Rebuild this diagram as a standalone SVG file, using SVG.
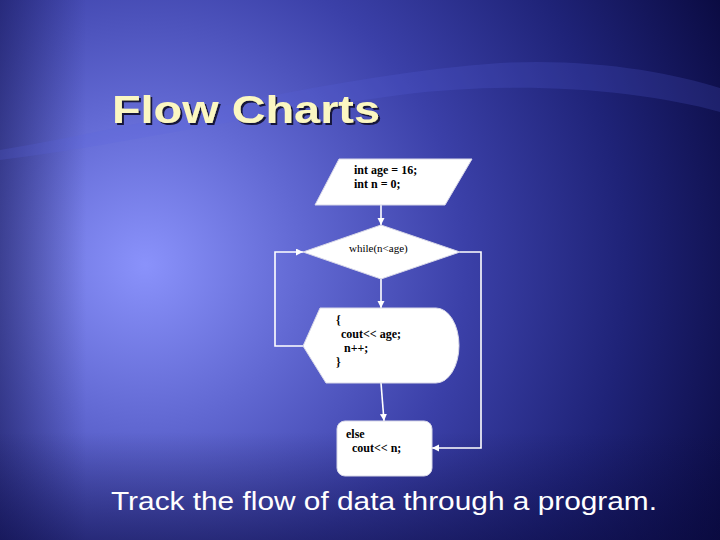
<svg xmlns="http://www.w3.org/2000/svg" width="720" height="540" viewBox="0 0 720 540">
<defs>
<radialGradient id="bg" gradientUnits="userSpaceOnUse" cx="145" cy="265" r="640">
<stop offset="0" stop-color="#8a92fb"/>
<stop offset="0.25" stop-color="#6168d2"/>
<stop offset="0.5" stop-color="#3b40a8"/>
<stop offset="0.75" stop-color="#1f2378"/>
<stop offset="1" stop-color="#0a0a40"/>
</radialGradient>
<linearGradient id="vig" x1="0" y1="0" x2="1" y2="0">
<stop offset="0" stop-color="#0a0a40" stop-opacity="0.45"/>
<stop offset="0.12" stop-color="#0a0a40" stop-opacity="0"/>
<stop offset="1" stop-color="#0a0a40" stop-opacity="0"/>
</linearGradient>
<linearGradient id="vigb" x1="0" y1="0" x2="0" y2="1">
<stop offset="0.8" stop-color="#0a0a40" stop-opacity="0"/>
<stop offset="1" stop-color="#0a0a40" stop-opacity="0.5"/>
</linearGradient>
<filter id="shadow" x="-5%" y="-20%" width="115%" height="150%">
<feDropShadow dx="2" dy="2" stdDeviation="0.6" flood-color="#15153a" flood-opacity="1"/>
</filter>
<marker id="arr" markerUnits="userSpaceOnUse" markerWidth="8" markerHeight="8" refX="7" refY="3.5" orient="auto">
<path d="M0,0 L7,3.5 L0,7 z" fill="#ffffff"/>
</marker>
<style>
.shape{fill:#ffffff;stroke:#d8d8e8;stroke-width:1}
.conn{fill:none;stroke:#ffffff;stroke-width:1.6}
.code{font-family:"Liberation Serif","Times New Roman",serif;font-size:12px;fill:#000000;font-weight:bold}
.codeR{font-family:"Liberation Serif","Times New Roman",serif;font-size:11px;fill:#000000}
</style>
</defs>
<rect x="0" y="0" width="720" height="540" fill="url(#bg)"/>
<rect x="0" y="0" width="720" height="540" fill="url(#vig)"/>
<rect x="0" y="0" width="720" height="540" fill="url(#vigb)"/>
<path d="M0,150 C150,125 330,75 500,63 C590,58 670,72 720,88 L720,112 C640,90 520,80 400,95 C250,115 120,145 0,160 Z" fill="#5a62e0" opacity="0.2"/>

<g id="title">
<text x="112" y="123" font-family="'Liberation Sans',Arial,sans-serif" font-size="39" font-weight="bold" fill="#fbf7c2" textLength="268" lengthAdjust="spacingAndGlyphs" filter="url(#shadow)">Flow Charts</text>
</g>

<g id="connectors">
<line class="conn" x1="381" y1="205" x2="381" y2="225" marker-end="url(#arr)"/>
<line class="conn" x1="381" y1="279" x2="381" y2="308" marker-end="url(#arr)"/>
<line class="conn" x1="381" y1="383" x2="384" y2="421" marker-end="url(#arr)"/>
<polyline class="conn" points="303,346 275,346 275,252 303,252" marker-end="url(#arr)"/>
<polyline class="conn" points="460,252 481,252 481,448 432,448" marker-end="url(#arr)"/>
</g>

<g id="init">
<polygon class="shape" points="339,159 472,159 445,205 315,205"/>
<text class="code" x="354" y="174">int age = 16;</text>
<text class="code" x="354" y="188">int n = 0;</text>
</g>

<g id="while">
<polygon class="shape" points="381,225 460,252 381,279 303,252"/>
<text class="codeR" x="349" y="252">while(n&lt;age)</text>
</g>

<g id="body">
<path class="shape" d="M320,308 L436,308 A23,37.5 0 0 1 436,383 L326,383 L303,346 Z"/>
<text class="code" x="336" y="324">{</text>
<text class="code" x="341" y="338">cout&lt;&lt; age;</text>
<text class="code" x="344" y="352">n++;</text>
<text class="code" x="336" y="366">}</text>
</g>

<g id="else">
<rect class="shape" x="337" y="421" width="95" height="55" rx="8" ry="8"/>
<text class="code" x="346" y="438">else</text>
<text class="code" x="352" y="452">cout&lt;&lt; n;</text>
</g>

<g id="caption">
<text x="111" y="510" font-family="'Liberation Sans',Arial,sans-serif" font-size="25" fill="#ffffff" textLength="546" lengthAdjust="spacingAndGlyphs">Track the flow of data through a program.</text>
</g>
</svg>
